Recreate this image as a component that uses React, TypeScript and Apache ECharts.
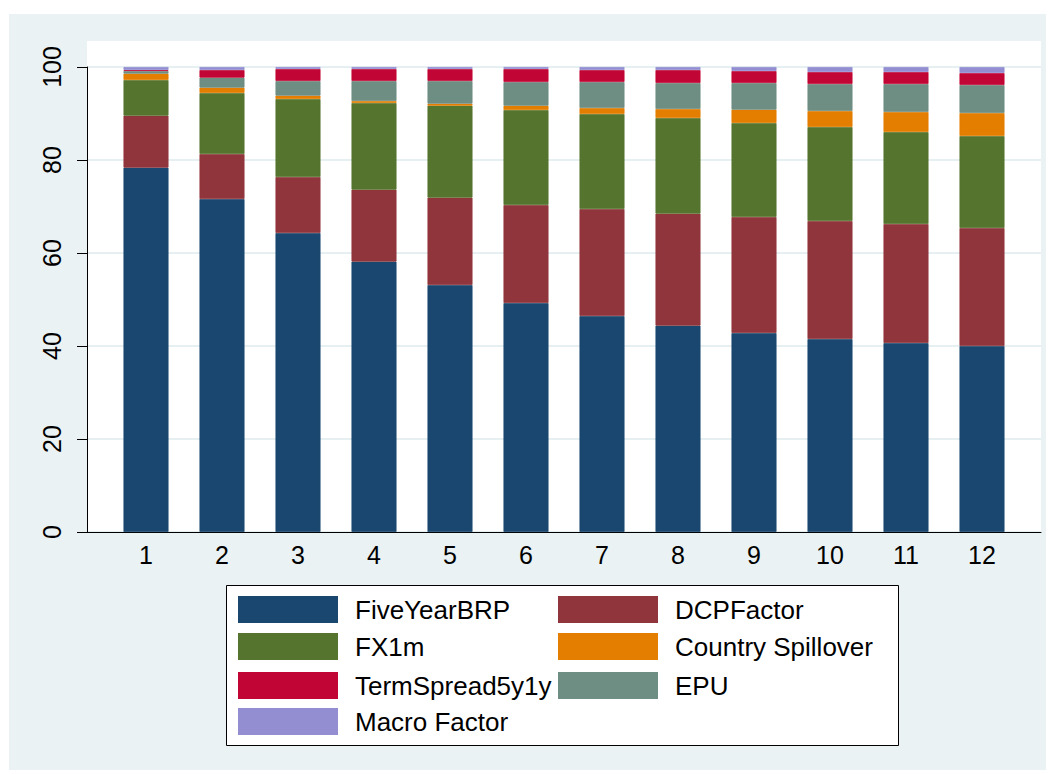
import React, { useEffect, useRef } from "react";
import * as echarts from "echarts";

const categories = ["1", "2", "3", "4", "5", "6", "7", "8", "9", "10", "11", "12"];

const fiveYearBRP = [78.35, 71.61, 64.3, 58.14, 53.12, 49.25, 46.45, 44.37, 42.8, 41.51, 40.65, 40.0];
const dcpFactor = [11.18, 9.68, 12.04, 15.48, 18.78, 21.07, 23.01, 24.09, 24.94, 25.37, 25.59, 25.38];
const fx1m = [7.67, 13.12, 16.78, 18.64, 19.78, 20.43, 20.43, 20.57, 20.22, 20.22, 19.78, 19.78];
const countrySpillover = [1.37, 1.15, 0.72, 0.43, 0.43, 0.93, 1.29, 1.94, 2.86, 3.44, 4.3, 4.95];
const epu = [0.57, 2.15, 3.15, 4.3, 4.88, 5.09, 5.59, 5.59, 5.74, 5.8, 6.02, 6.02];
const termSpread = [0.21, 1.64, 2.58, 2.58, 2.58, 2.8, 2.58, 2.79, 2.58, 2.58, 2.58, 2.58];
const macroFactor = [0.65, 0.65, 0.43, 0.43, 0.43, 0.43, 0.65, 0.65, 0.86, 1.08, 1.08, 1.29];

const seriesNames = [
  "FiveYearBRP",
  "DCPFactor",
  "FX1m",
  "Country Spillover",
  "EPU",
  "TermSpread5y1y",
  "Macro Factor",
];
const seriesValues = [fiveYearBRP, dcpFactor, fx1m, countrySpillover, epu, termSpread, macroFactor];
const seriesColors = ["#1a476f", "#90353b", "#55752f", "#e37e00", "#6e8e84", "#c10534", "#938dd2"];

// legend layout order (row-wise, two columns)
const legendOrder = [
  "FiveYearBRP",
  "DCPFactor",
  "FX1m",
  "Country Spillover",
  "TermSpread5y1y",
  "EPU",
  "Macro Factor",
];

const FONT = "'Liberation Sans', Arial, Helvetica, sans-serif";

export default function App() {
  const ref = useRef<HTMLDivElement>(null);

  useEffect(() => {
    if (!ref.current) return;
    const chart = echarts.init(ref.current, undefined, { renderer: "svg" });

    const plotLeft = 87;
    const plotRight = 1041;
    const gridTop = 67;
    const gridBottom = 532;
    const band = 76;
    const firstCenter = 146;
    const barsLeft = firstCenter - band / 2;
    const barsRight = barsLeft + band * categories.length;

    const colX = [238, 558];
    const rowY = [596, 633, 672, 708];

    const legends = legendOrder.map((name, i) => ({
      data: [name],
      left: colX[i % 2],
      top: rowY[Math.floor(i / 2)],
      orient: "horizontal",
      padding: 0,
      itemWidth: 100,
      itemHeight: 27,
      icon: "rect",
      selectedMode: false,
      itemStyle: { borderWidth: 0 },
      textStyle: {
        fontSize: 26,
        color: "#000",
        fontFamily: FONT,
        padding: [0, 0, 0, 12],
      },
    }));

    chart.setOption({
      animation: false,
      backgroundColor: "#ffffff",
      graphic: [
        {
          type: "rect",
          z: -10,
          silent: true,
          shape: { x: 9, y: 14, width: 1037, height: 756 },
          style: { fill: "#eaf2f3" },
        },
        {
          type: "rect",
          z: -9,
          silent: true,
          shape: { x: plotLeft, y: 41, width: plotRight - plotLeft, height: gridBottom - 41 },
          style: { fill: "#ffffff" },
        },
        {
          type: "rect",
          z: -9,
          silent: true,
          shape: { x: 226.5, y: 585.5, width: 672, height: 160 },
          style: { fill: "#ffffff", stroke: "#000000", lineWidth: 1 },
        },
      ],
      legend: legends,
      grid: [
        {
          left: barsLeft,
          right: 1053 - barsRight,
          top: gridTop,
          bottom: 774 - gridBottom,
          containLabel: false,
        },
        {
          left: plotLeft,
          right: 1053 - plotRight,
          top: gridTop,
          bottom: 774 - gridBottom,
          containLabel: false,
        },
      ],
      xAxis: [
        {
          type: "category",
          gridIndex: 0,
          data: categories,
          boundaryGap: true,
          axisLine: { show: false },
          axisTick: { show: false },
          splitLine: { show: false },
          axisLabel: {
            fontSize: 25,
            color: "#000",
            fontFamily: FONT,
            margin: 10,
          },
        },
        {
          type: "value",
          gridIndex: 1,
          min: 0,
          max: 1,
          axisLine: { show: true, onZero: false, lineStyle: { color: "#000", width: 1 } },
          axisTick: { show: false },
          axisLabel: { show: false },
          splitLine: { show: false },
        },
      ],
      yAxis: [
        {
          type: "value",
          gridIndex: 0,
          min: 0,
          max: 100,
          interval: 20,
          offset: barsLeft - plotLeft,
          axisLine: { show: true, lineStyle: { color: "#000", width: 1 } },
          axisTick: {
            show: true,
            length: 10,
            inside: false,
            lineStyle: { color: "#000", width: 1 },
          },
          splitLine: { show: false },
          axisLabel: {
            rotate: 90,
            fontSize: 25,
            color: "#000",
            fontFamily: FONT,
            margin: 23,
          },
        },
        {
          type: "value",
          gridIndex: 1,
          min: 0,
          max: 100,
          interval: 20,
          axisLine: { show: false },
          axisTick: { show: false },
          axisLabel: { show: false },
          splitLine: { show: true, lineStyle: { color: "#e6eff1", width: 2 } },
        },
      ],
      series: seriesNames.map((name, si) => ({
        name,
        type: "bar",
        stack: "total",
        xAxisIndex: 0,
        yAxisIndex: 0,
        barWidth: 45,
        z: 3,
        itemStyle: {
          color: seriesColors[si],
          borderColor: seriesColors[si],
          borderWidth: 0.8,
        },
        emphasis: { disabled: true },
        data: seriesValues[si],
      })),
    });

    return () => {
      chart.dispose();
    };
  }, []);

  return (
    <div
      ref={ref}
      style={{ position: "absolute", left: 0, top: 0, width: 1053, height: 774 }}
    />
  );
}
